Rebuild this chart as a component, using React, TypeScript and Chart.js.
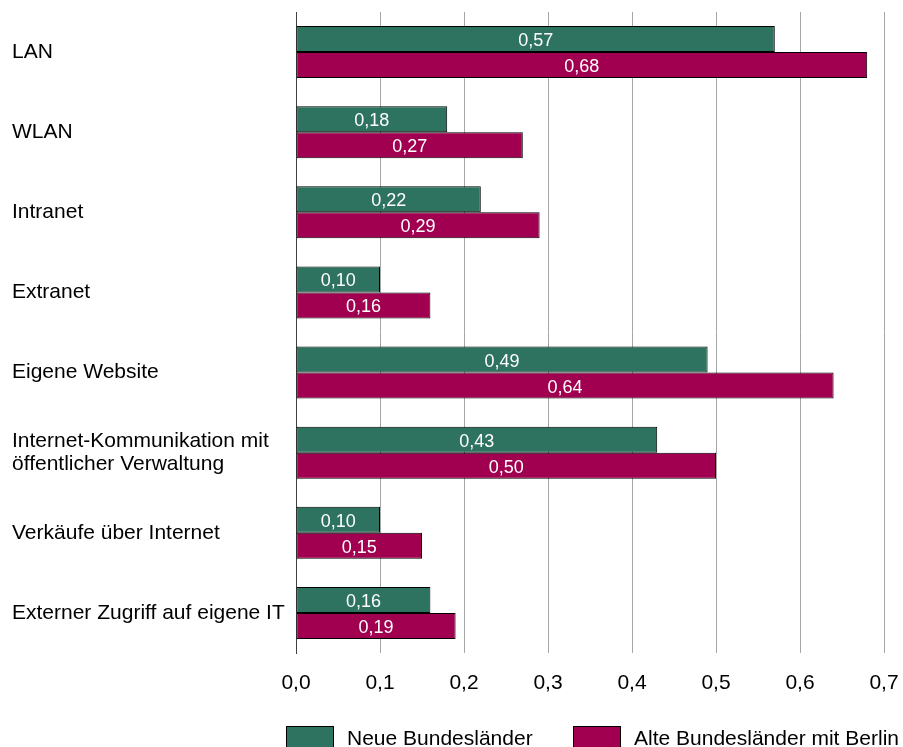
import React, { useEffect, useRef } from "react";
import { Chart, registerables } from "chart.js";

Chart.register(...registerables);

const categories: (string | string[])[] = [
  "LAN",
  "WLAN",
  "Intranet",
  "Extranet",
  "Eigene Website",
  ["Internet-Kommunikation mit", "öffentlicher Verwaltung"],
  "Verkäufe über Internet",
  "Externer Zugriff auf eigene IT",
];
const neueBundeslaender = [0.57, 0.18, 0.22, 0.1, 0.49, 0.43, 0.1, 0.16];
const alteBundeslaender = [0.68, 0.27, 0.29, 0.16, 0.64, 0.5, 0.15, 0.19];
const seriesNames = ["Neue Bundesländer", "Alte Bundesländer mit Berlin"];
const seriesColors = ["#2e7260", "#a0004f"];
const xMin = 0;
const xMax = 0.7;
const xStep = 0.1;

const FONT = '"Liberation Sans", Arial, sans-serif';
const fmt = (v: number, d: number) => v.toFixed(d).replace(".", ",");

const valueLabels = {
  id: "valueLabels",
  afterDatasetsDraw(chart: any) {
    const ctx = chart.ctx;
    ctx.save();
    ctx.font = `18px ${FONT}`;
    ctx.fillStyle = "#ffffff";
    ctx.textAlign = "center";
    ctx.textBaseline = "middle";
    chart.data.datasets.forEach((ds: any, di: number) => {
      const meta = chart.getDatasetMeta(di);
      meta.data.forEach((bar: any, i: number) => {
        const p = bar.getProps(["x", "y", "base"], true);
        ctx.fillText(fmt(ds.data[i], 2), (p.x + p.base) / 2, p.y + 2);
      });
    });
    ctx.restore();
  },
};

export default function App() {
  const ref = useRef<HTMLCanvasElement | null>(null);

  useEffect(() => {
    if (!ref.current) return;
    const chart = new Chart(ref.current, {
      type: "bar",
      data: {
        labels: categories,
        datasets: [
          {
            label: seriesNames[0],
            data: neueBundeslaender,
            backgroundColor: seriesColors[0],
            borderColor: "#000000",
            borderWidth: 1,
            borderSkipped: false,
            categoryPercentage: 0.65,
            barPercentage: 1,
          },
          {
            label: seriesNames[1],
            data: alteBundeslaender,
            backgroundColor: seriesColors[1],
            borderColor: "#000000",
            borderWidth: 1,
            borderSkipped: false,
            categoryPercentage: 0.65,
            barPercentage: 1,
          },
        ],
      },
      options: {
        indexAxis: "y",
        animation: false,
        responsive: false,
        maintainAspectRatio: false,
        layout: { padding: { top: 12, left: 12, right: 19, bottom: 0 } },
        plugins: {
          legend: { display: false },
          tooltip: { enabled: false },
        },
        scales: {
          x: {
            min: xMin,
            max: xMax,
            ticks: {
              stepSize: xStep,
              color: "#000000",
              padding: 4,
              font: { family: FONT, size: 21, lineHeight: 2.5 },
              callback: (v: any) => fmt(Number(v), 1),
            },
            grid: { color: "#a6a6a6", lineWidth: 1, drawTicks: false },
            border: { display: false },
            afterFit: (s: any) => {
              s.height = 94;
            },
          },
          y: {
            ticks: {
              color: "#000000",
              crossAlign: "far",
              padding: 0,
              font: { family: FONT, size: 21, lineHeight: 1.07 },
            },
            grid: { display: false, drawTicks: false },
            border: { display: true, color: "#404040", width: 1 },
            afterFit: (s: any) => {
              s.width = 284;
            },
          },
        },
      },
      plugins: [valueLabels],
    });
    return () => chart.destroy();
  }, []);

  const legendItem = (i: number, left: number) => (
    <div
      key={i}
      style={{
        position: "absolute",
        left,
        top: 726,
        display: "flex",
        alignItems: "flex-start",
        whiteSpace: "nowrap",
      }}
    >
      <div
        style={{
          width: 48,
          height: 22,
          boxSizing: "border-box",
          border: "1px solid #000",
          background: seriesColors[i],
        }}
      />
      <div
        style={{
          marginLeft: 13,
          font: `21px ${FONT}`,
          lineHeight: "21px",
          marginTop: 1,
          color: "#000",
        }}
      >
        {seriesNames[i]}
      </div>
    </div>
  );

  return (
    <div
      style={{
        position: "fixed",
        left: 0,
        top: 0,
        width: 903,
        height: 747,
        overflow: "hidden",
        background: "#fff",
      }}
    >
      <canvas ref={ref} width={903} height={747} style={{ display: "block" }} />
      {legendItem(0, 286)}
      {legendItem(1, 573)}
    </div>
  );
}
